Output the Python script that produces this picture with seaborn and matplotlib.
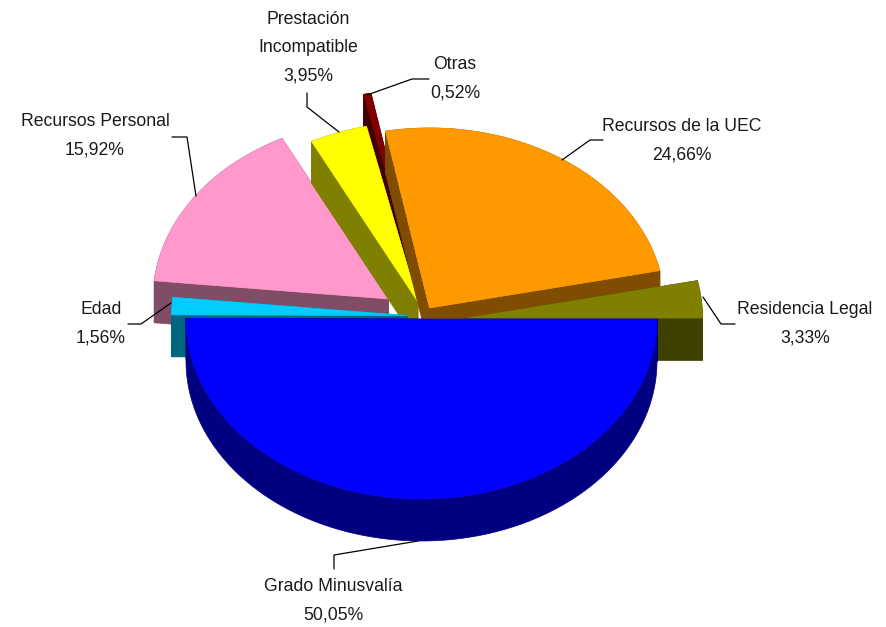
import numpy as np
import matplotlib
matplotlib.use("Agg")
import matplotlib.pyplot as plt
from matplotlib.patches import Polygon
import seaborn as sns

# Values, clockwise starting from the east side of the pie
categories = ["Grado Minusvalía", "Edad", "Recursos Personal", "Prestación\nIncompatible",
              "Otras", "Recursos de la UEC", "Residencia Legal"]
values = [50.05, 1.56, 15.92, 3.95, 0.52, 24.66, 3.33]
value_labels = ["50,05%", "1,56%", "15,92%", "3,95%", "0,52%", "24,66%", "3,33%"]

top_hex = ["#0000FF", "#00CCFF", "#FF99CC", "#FFFF00", "#800000", "#FF9900", "#808000"]
side_hex = ["#000080", "#006680", "#804C66", "#808000", "#400000", "#7F4C00", "#404000"]

# Pie layout in pixels
cx, cy = 421.5, 319
rx, ry = 235.5, 180
depth = 42
offsets = [(0, 0), (-14.5, -3.5), (-33, -20), (-3.5, -17), (-6.5, -49), (8, -11), (45.5, -1)]
draw_order = [2, 4, 3, 5, 6, 1, 0]

# Label centres and leader lines
label_pos = [(333, 600), (101, 323), (95, 135), (308, 47), (455, 78), (682, 140), (805, 323)]
leaders = [
    [(418, 541), (334, 555), (334, 569)],
    [(171, 303), (141, 324), (128, 324)],
    [(196, 196), (187, 137), (172, 137)],
    [(307, 93), (307, 107), (339, 132)],
    [(367, 95), (412, 79), (429, 79)],
    [(562, 160), (590, 140), (603, 140)],
    [(703, 297), (721, 324), (735, 324)],
]

sns.set_theme(style="white")
plt.rcParams["font.family"] = ["Liberation Sans", "DejaVu Sans"]
top_colors = sns.color_palette(top_hex)
side_colors = sns.color_palette(side_hex)

fig, ax = plt.subplots(figsize=(8.86, 6.27), dpi=100)
fig.subplots_adjust(0, 0, 1, 1)
ax.set_xlim(0, 886)
ax.set_ylim(627, 0)
ax.axis("off")

# Slice angles come from the values
edges = np.concatenate([[0], np.cumsum(values)]) / np.sum(values) * 2 * np.pi


def arc(a, b, x0, y0):
    t = np.linspace(a, b, max(int((b - a) * 60), 3))
    return np.column_stack([x0 + rx * np.cos(t), y0 + ry * np.sin(t)])


def fill(points, color):
    ax.add_patch(Polygon(points, closed=True, facecolor=color, edgecolor=color, linewidth=0.5))


for i in draw_order:
    a, b = edges[i], edges[i + 1]
    x0 = cx + offsets[i][0]
    y0 = cy + offsets[i][1]
    rim = arc(a, b, x0, y0)
    apex = np.array([[x0, y0]])
    down = np.array([0, depth])

    # radial walls first, then the rim wall, then the top face
    for end in (rim[0], rim[-1]):
        fill(np.vstack([apex, [end], [end + down], apex + down]), side_colors[i])
    fill(np.vstack([rim, (rim + down)[::-1]]), side_colors[i])
    fill(np.vstack([apex, rim]), top_colors[i])

for name, val, (x, y), line in zip(categories, value_labels, label_pos, leaders):
    ax.text(x, y + 1, name + "\n" + val, ha="center", va="center", fontsize=12.7,
            color="#1a1a1a", linespacing=1.85)
    pts = np.array(line)
    ax.plot(pts[:, 0], pts[:, 1], color="black", lw=0.9)

fig.savefig("out.png", dpi=100)
